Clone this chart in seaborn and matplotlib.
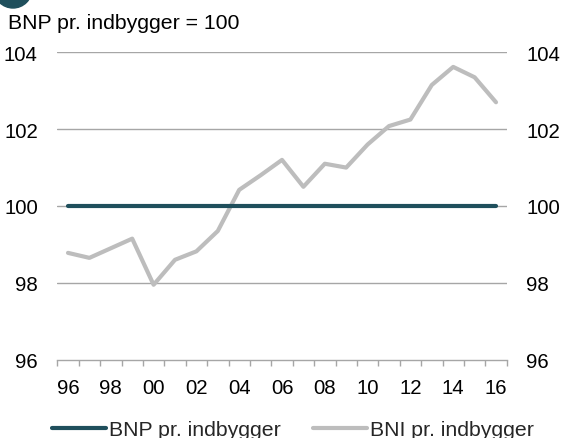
import numpy as np
import pandas as pd
import matplotlib
matplotlib.use("Agg")
import matplotlib.pyplot as plt
from matplotlib.patches import Ellipse
from matplotlib.lines import Line2D
import seaborn as sns

# Data
years = list(range(1996, 2017))
bnp = [100.0] * len(years)
bni = [98.78, 98.65, 98.9, 99.15, 97.95, 98.6, 98.82, 99.35, 100.42, 100.8,
       101.2, 100.5, 101.1, 101.0, 101.6, 102.08, 102.25, 103.15, 103.62,
       103.35, 102.7]
series_names = ["BNP pr. indbygger", "BNI pr. indbygger"]
ytick_vals = [96, 98, 100, 102, 104]
xtick_years = list(range(1996, 2017, 2))
xtick_labels = [f"{y % 100:02d}" for y in xtick_years]

df = pd.DataFrame({
    "year": years * 2,
    "value": bnp + bni,
    "series": [series_names[0]] * len(years) + [series_names[1]] * len(years),
})

sns.set_theme(style="white")
plt.rcParams["font.family"] = ["Liberation Sans", "DejaVu Sans"]

W, H = 563, 439
fig = plt.figure(figsize=(W / 100, H / 100), dpi=100)
ax = fig.add_axes([57.3 / W, 1 - 360.7 / H, (506.7 - 57.3) / W, (360.7 - 53.3) / H])

palette = {series_names[0]: "#1f4f5c", series_names[1]: "#bdbdbd"}
sns.lineplot(data=df, x="year", y="value", hue="series", palette=palette,
             ax=ax, linewidth=3.0, legend=False)
for ln in ax.lines:
    ln.set_solid_capstyle("round")
# BNP on top
ax.lines[0].set_zorder(4)
ax.lines[1].set_zorder(3)

ax.set_xlim(1995.5, 2016.5)
ax.set_ylim(96, 104)
ax.set_yticks(ytick_vals)
for v in ytick_vals[1:]:
    ax.axhline(v, color="#a6a6a6", lw=1, zorder=1)

for s in ["top", "right", "left"]:
    ax.spines[s].set_visible(False)
ax.spines["bottom"].set_color("#a6a6a6")
ax.spines["bottom"].set_linewidth(1)

ax.set_xticks(xtick_years)
ax.set_xticklabels(xtick_labels)
ax.set_xticks(np.arange(1995.5, 2017.0, 1.0), minor=True)
ax.tick_params(axis="x", which="major", length=0, labelsize=14.7, pad=13,
               colors="black")
ax.tick_params(axis="x", which="minor", length=4, width=1, color="#a6a6a6",
               direction="out", bottom=True)
ax.tick_params(axis="y", length=0, labelsize=14.7, labelleft=True,
               labelright=True, pad=14, colors="black")
ax.set_xlabel("")
ax.set_ylabel("")

# legend
handles = [Line2D([0], [0], color=palette[n], lw=3.0) for n in series_names]
fig.legend(handles, series_names, loc="center", ncol=2, frameon=False,
           fontsize=15.3, handlelength=2.55, handletextpad=0.15,
           columnspacing=1.5, bbox_to_anchor=(0.52, 0.019))

# subtitle
fig.text(8 / W, 1 - 29 / H, "BNP pr. indbygger = 100", fontsize=15.3,
         ha="left", va="baseline", color="black")

# partially visible chart number marker
r = 19
fig.patches.append(Ellipse((13 / W, 1 + 10 / H), 2 * r / W, 2 * r / H,
                           transform=fig.transFigure, color="#1f4f5c",
                           clip_on=False))

fig.savefig("out.png", dpi=100)
